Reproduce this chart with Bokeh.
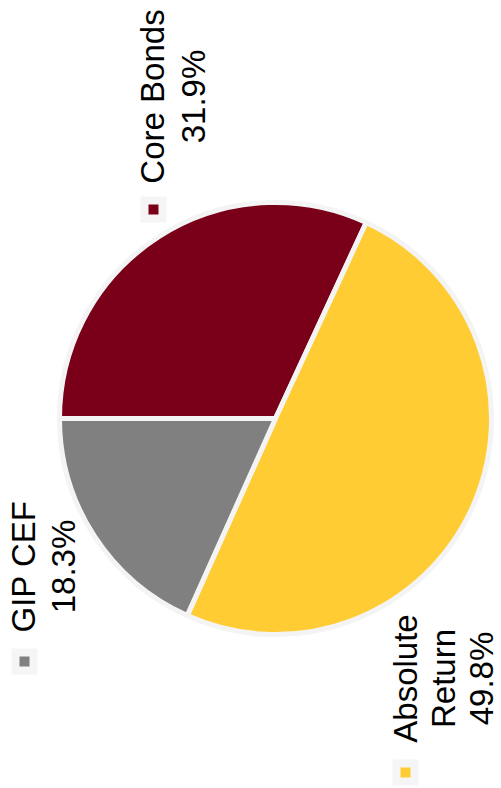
import math
from bokeh.plotting import figure
from bokeh.models import Range1d, ColumnDataSource
from bokeh.core.properties import value
from bokeh.embed import file_html
from bokeh.resources import INLINE

# ---- data ----
categories = ["Core Bonds", "Absolute Return", "GIP CEF"]
shares = [31.9, 49.8, 18.3]
colors = ["#7a0019", "#ffcc33", "#808080"]
label_lines = [["Core Bonds", "31.9%"], ["Absolute", "Return", "49.8%"], ["GIP CEF", "18.3%"]]

# ---- layout (screen pixels, page coords) ----
W, H = 501, 788
CX, CY, R = 275, 418, 216
START = 180.0  # degrees, slices go clockwise

def sy(y):  # page y (down) -> data y (up)
    return H - y

total = sum(shares)
starts, ends = [], []
a = START
for s in shares:
    span = s / total * 360.0
    ends.append(math.radians(a))
    starts.append(math.radians(a - span))
    a -= span

p = figure(width=W, height=H, output_backend="svg", toolbar_location=None,
           x_range=Range1d(0, W), y_range=Range1d(0, H),
           min_border=0, outline_line_color=None)
p.axis.visible = False
p.grid.visible = False
p.background_fill_color = "white"
p.border_fill_color = "white"

src = ColumnDataSource(dict(x=[CX] * 3, y=[sy(CY)] * 3, start=starts, end=ends,
                            color=colors, cat=categories))
p.wedge(x="x", y="y", radius=R, radius_units="screen", start_angle="start", end_angle="end",
        fill_color="color", line_color="#f4f4f4", line_width=5, source=src)

# label anchors (layout): (line x positions, text center y, marker x, marker y)
anchors = {
    "Core Bonds": ([152, 193], 96, 153, 209),
    "Absolute Return": ([405, 443, 481], 678, 405, 772),
    "GIP CEF": ([23, 63], 566, 24, 661),
}
FS = "33px"
for cat, col, lines in zip(categories, colors, label_lines):
    xs, yc, mx, my = anchors[cat]
    p.rect(x=[mx], y=[sy(my)], width=26, height=26, width_units="screen", height_units="screen",
           fill_color="#f5f5f5", line_color=None)
    p.rect(x=[mx], y=[sy(my)], width=10, height=10, width_units="screen", height_units="screen",
           fill_color=col, line_color=None)
    for lx, t in zip(xs, lines):
        p.text(x=[lx], y=[sy(yc)], text=[t], angle=math.pi / 2,
               text_align="center", text_baseline="middle",
               text_font=value("Liberation Sans"), text_font_size=FS, text_color="black")

open("out.html", "w").write(file_html(p, INLINE))
